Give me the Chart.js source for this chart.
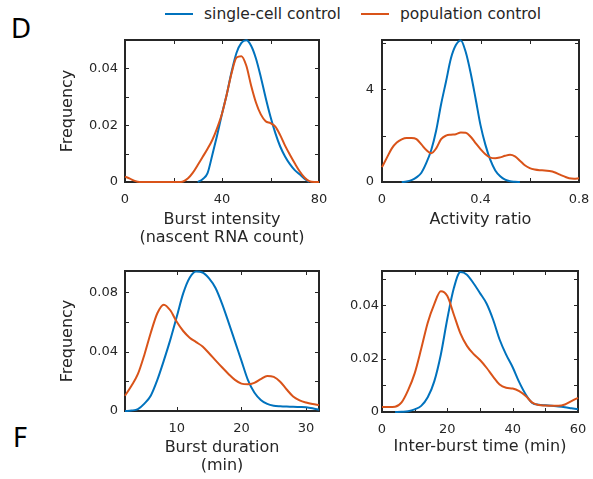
<!DOCTYPE html>
<html>
<head>
<meta charset="utf-8">
<script src="https://cdn.jsdelivr.net/npm/chart.js@4"></script>
<style>
  body { margin: 0; width: 593px; height: 479px; position: relative; background: #fff; overflow: hidden;
         font-family: "DejaVu Sans", sans-serif; color: #262626; }
  canvas { position: absolute; }
  .tag { position: absolute; font-size: 26px; line-height: 26px; color: #000; }
  .key { position: absolute; top: 5px; height: 18px; display: flex; align-items: center; font-size: 15.5px; white-space: nowrap; }
  .key .swatch { width: 28px; height: 2px; margin-right: 11px; }
</style>
</head>
<body>
<div class="tag" style="left:11px; top:16px;">D</div>
<div class="tag" style="left:13px; top:425px;">F</div>
<div id="legend"></div>
<canvas id="intensity" width="293" height="232" style="left:50px; top:16px;"></canvas>
<canvas id="ratio" width="271" height="232" style="left:332px; top:16px;"></canvas>
<canvas id="duration" width="293" height="230" style="left:50px; top:247px;"></canvas>
<canvas id="gap" width="270" height="231" style="left:332px; top:247px;"></canvas>
<script>
// === Series ===
const seriesNames = ['single-cell control', 'population control'];
const seriesColors = ['#0072BD', '#D95319'];

// === Burst intensity (nascent RNA count) ===
const intensityX = [0, 2, 4, 6, 8, 10, 12, 14, 16, 18, 20, 22, 24, 26, 28, 30, 32, 34, 36, 38,
  40, 42, 44, 46, 48, 50, 52, 54, 56, 58, 60, 62, 64, 66, 68, 70, 72, 74, 76, 78, 80];
const intensitySingle = [null, null, null, null, null, null, null, null, null, null, null, null, null, null, null,
  0, 0.001, 0.003, 0.0095, 0.0165, 0.024, 0.031, 0.039, 0.0455, 0.049, 0.0499, 0.048, 0.0435, 0.037, 0.0297,
  0.023, 0.0172, 0.0125, 0.009, 0.0063, 0.0042, 0.0027, 0.0012, 0, null, null];
const intensityPop = [0.0019, 0.0012, 0.0004, 0, 0, 0, 0, 0, 0, 0, 0, 0, 0.0002, 0.0013, 0.0033,
  0.006, 0.0088, 0.0116, 0.0148, 0.019, 0.024, 0.031, 0.0385, 0.0438, 0.0443, 0.041, 0.034, 0.028, 0.0238, 0.0214,
  0.0207, 0.0195, 0.0165, 0.0128, 0.0096, 0.0066, 0.0038, 0.0016, 0.0003, 0, 0];
const intensityXTicks = [0, 20, 40, 60, 80];
const intensityXLabels = [0, 40, 80];
const intensityYTicks = [0, 0.01, 0.02, 0.03, 0.04, 0.05];
const intensityYLabels = [0, 0.02, 0.04];

// === Activity ratio ===
const ratioX = [0, 0.02, 0.04, 0.06, 0.08, 0.1, 0.12, 0.14, 0.16, 0.18, 0.2, 0.22, 0.24, 0.26, 0.28, 0.3,
  0.32, 0.34, 0.36, 0.38, 0.4, 0.42, 0.44, 0.46, 0.48, 0.5, 0.52, 0.54, 0.56, 0.58, 0.6, 0.62, 0.64, 0.66,
  0.68, 0.7, 0.72, 0.74, 0.76, 0.78, 0.8];
const ratioSingle = [null, null, null, null, 0, 0.02, 0.08, 0.2, 0.4, 0.82, 1.38, 2.22, 3.35, 4.33, 5.33, 5.9,
  6.1, 5.6, 4.7, 3.6, 2.45, 1.6, 0.95, 0.5, 0.25, 0.1, 0.03, 0.01, 0, null, null, null, null, null,
  null, null, null, null, null, null, null];
const ratioPop = [0.64, 1.05, 1.45, 1.7, 1.84, 1.9, 1.9, 1.85, 1.62, 1.38, 1.24, 1.45, 1.85, 2.0, 2.04, 2.06,
  2.13, 2.12, 1.95, 1.68, 1.42, 1.2, 1.05, 1.02, 1.06, 1.13, 1.17, 1.1, 0.92, 0.72, 0.6, 0.54, 0.51, 0.5,
  0.47, 0.42, 0.33, 0.24, 0.16, 0.14, 0.16];
const ratioXTicks = [0, 0.2, 0.4, 0.6, 0.8];
const ratioXLabels = [0, 0.4, 0.8];
const ratioYTicks = [0, 2, 4, 6];
const ratioYLabels = [0, 4];

// === Burst duration (min) ===
const durationX = [2, 3, 4, 5, 6, 7, 8, 9, 10, 11, 12, 13, 14, 15, 16, 17, 18, 19, 20, 21, 22, 23, 24,
  25, 26, 27, 28, 29, 30, 31, 32];
const durationSingle = [0, 0.0003, 0.0013, 0.005, 0.0105, 0.021, 0.034, 0.048, 0.0636, 0.0794, 0.09, 0.0942,
  0.0935, 0.0895, 0.083, 0.0725, 0.06, 0.047, 0.034, 0.021, 0.0125, 0.0075, 0.0048, 0.0036, 0.0032, 0.003,
  0.0029, 0.0027, 0.0025, 0.0018, 0.0008];
const durationPop = [0.0103, 0.017, 0.025, 0.038, 0.053, 0.066, 0.0718, 0.068, 0.0602, 0.054, 0.0495, 0.0465,
  0.0435, 0.039, 0.0342, 0.0295, 0.025, 0.021, 0.0185, 0.018, 0.019, 0.0215, 0.0237, 0.023, 0.0198, 0.0145,
  0.0098, 0.0072, 0.0057, 0.0047, 0.004];
const durationXTicks = [10, 20, 30];
const durationXLabels = [10, 20, 30];
const durationYTicks = [0, 0.02, 0.04, 0.06, 0.08];
const durationYLabels = [0, 0.04, 0.08];

// === Inter-burst time (min) ===
const gapX = [0, 2, 4, 6, 8, 10, 12, 14, 16, 18, 20, 22, 24, 26, 28, 30, 32, 34, 36, 38, 40, 42, 44, 46,
  48, 50, 52, 54, 56, 58, 60];
const gapSingle = [null, null, 0, 0.0001, 0.0003, 0.001, 0.0023, 0.0055, 0.0115, 0.0215, 0.035, 0.0465, 0.0525,
  0.0515, 0.0483, 0.0446, 0.0407, 0.0347, 0.0272, 0.0215, 0.0168, 0.0112, 0.0066, 0.0034, 0.0027, 0.0025,
  0.0023, 0.0021, 0.0018, 0.0014, 0.001];
const gapPop = [0.0019, 0.0019, 0.002, 0.0036, 0.0082, 0.0145, 0.0237, 0.0335, 0.0405, 0.0453, 0.0435, 0.0365,
  0.0295, 0.0248, 0.0218, 0.0195, 0.0166, 0.0133, 0.0103, 0.0091, 0.0088, 0.0078, 0.006, 0.0035, 0.0026,
  0.0024, 0.0023, 0.0023, 0.0028, 0.0041, 0.0053];
const gapXTicks = [0, 10, 20, 30, 40, 50, 60];
const gapXLabels = [0, 20, 40, 60];
const gapYTicks = [0, 0.01, 0.02, 0.03, 0.04, 0.05];
const gapYLabels = [0, 0.02, 0.04];

const FONT = 'DejaVu Sans';
const INK = '#262626';

// === Legend (shared) ===
const legendEl = document.getElementById('legend');
const legendLeft = [165, 361];
seriesNames.forEach((name, i) => {
  const item = document.createElement('div');
  item.className = 'key';
  item.style.left = legendLeft[i] + 'px';
  item.innerHTML = `<span class="swatch" style="background:${seriesColors[i]}"></span><span>${name}</span>`;
  legendEl.appendChild(item);
});

// box with inward tick marks, drawn under the curves
const boxPlugin = {
  id: 'box',
  beforeDatasetsDraw(chart) {
    const { ctx, chartArea: a, scales } = chart;
    const len = 4;
    ctx.save();
    ctx.strokeStyle = INK;
    ctx.lineWidth = 1;
    ctx.beginPath();
    scales.x.ticks.forEach(t => {
      const px = Math.round(scales.x.getPixelForValue(t.value)) + 0.5;
      if (px < a.left + 2 || px > a.right - 2) return;
      ctx.moveTo(px, a.bottom); ctx.lineTo(px, a.bottom - len);
      ctx.moveTo(px, a.top); ctx.lineTo(px, a.top + len);
    });
    scales.y.ticks.forEach(t => {
      const py = Math.round(scales.y.getPixelForValue(t.value)) + 0.5;
      if (py < a.top + 2 || py > a.bottom - 2) return;
      ctx.moveTo(a.left, py); ctx.lineTo(a.left + len, py);
      ctx.moveTo(a.right, py); ctx.lineTo(a.right - len, py);
    });
    ctx.stroke();
    ctx.lineWidth = 2;
    ctx.strokeRect(a.left, a.top, a.right - a.left, a.bottom - a.top);
    ctx.restore();
  }
};

function axis(o, horizontal) {
  return {
    type: 'linear',
    min: o.min,
    max: o.max,
    afterBuildTicks: s => { s.ticks = o.ticks.map(v => ({ value: v })); },
    afterFit: s => { if (horizontal) s.height = o.size; else s.width = o.size; },
    grid: { display: false, drawTicks: false },
    border: { display: false },
    ticks: {
      autoSkip: false,
      maxRotation: 0,
      padding: o.pad,
      color: INK,
      font: { family: FONT, size: 13 },
      callback: v => {
        const l = o.labels.find(l => Math.abs(l - v) < 1e-9);
        return l === undefined ? '' : String(l);
      }
    },
    title: {
      display: !!o.title,
      text: o.title,
      color: INK,
      font: { family: FONT, size: 16, lineHeight: 1.15 },
      padding: o.titlePad
    }
  };
}

function makePanel(id, xs, single, pop, xOpt, yOpt) {
  const toPoints = ys => xs.map((x, i) => ({ x, y: ys[i] }));
  new Chart(document.getElementById(id), {
    type: 'scatter',
    data: {
      datasets: [single, pop].map((ys, i) => ({
        label: seriesNames[i],
        data: toPoints(ys),
        showLine: true,
        borderColor: seriesColors[i],
        backgroundColor: seriesColors[i],
        borderWidth: 2,
        pointRadius: 0,
        cubicInterpolationMode: 'monotone',
        order: 1 - i,
        clip: 4
      }))
    },
    options: {
      responsive: false,
      animation: false,
      layout: { padding: { top: 24, right: 24, left: 0, bottom: 0 } },
      plugins: { legend: { display: false }, tooltip: { enabled: false } },
      scales: {
        x: axis(xOpt, true),
        y: axis(yOpt, false)
      }
    },
    plugins: [boxPlugin]
  });
}

makePanel('intensity', intensityX, intensitySingle, intensityPop,
  { min: 0, max: 80, ticks: intensityXTicks, labels: intensityXLabels, size: 66, pad: 10,
    title: ['Burst intensity', '(nascent RNA count)'], titlePad: { top: 0, bottom: 1 } },
  { min: 0, max: 0.05, ticks: intensityYTicks, labels: intensityYLabels, size: 75, pad: 7,
    title: 'Frequency', titlePad: { top: 9, bottom: 0 } });

makePanel('ratio', ratioX, ratioSingle, ratioPop,
  { min: 0, max: 0.8, ticks: ratioXTicks, labels: ratioXLabels, size: 66, pad: 10,
    title: 'Activity ratio', titlePad: { top: 0, bottom: 19 } },
  { min: 0, max: 6.12, ticks: ratioYTicks, labels: ratioYLabels, size: 50, pad: 8,
    title: '', titlePad: 0 });

makePanel('duration', durationX, durationSingle, durationPop,
  { min: 2, max: 32, ticks: durationXTicks, labels: durationXLabels, size: 66, pad: 10,
    title: ['Burst duration', '(min)'], titlePad: { top: 0, bottom: 2 } },
  { min: 0, max: 0.0945, ticks: durationYTicks, labels: durationYLabels, size: 75, pad: 7,
    title: 'Frequency', titlePad: { top: 9, bottom: 0 } });

makePanel('gap', gapX, gapSingle, gapPop,
  { min: 0, max: 60, ticks: gapXTicks, labels: gapXLabels, size: 66, pad: 10,
    title: 'Inter-burst time (min)', titlePad: { top: 0, bottom: 22 } },
  { min: 0, max: 0.0529, ticks: gapYTicks, labels: gapYLabels, size: 50, pad: 3,
    title: '', titlePad: 0 });
</script>
</body>
</html>
